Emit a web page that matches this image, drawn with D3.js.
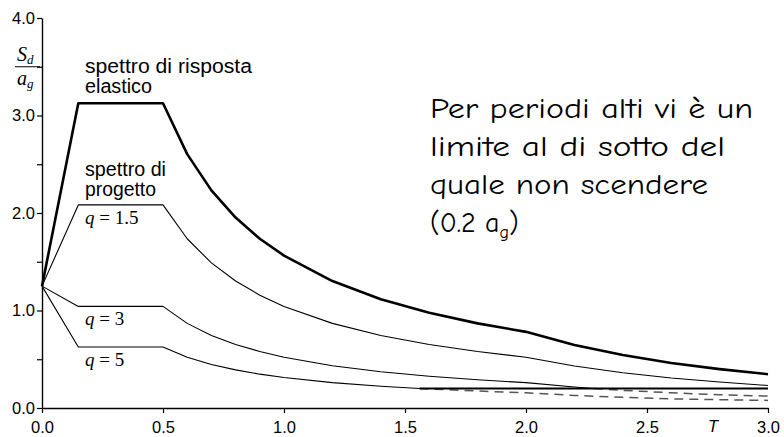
<!DOCTYPE html>
<html>
<head>
<meta charset="utf-8">
<script src="https://cdn.jsdelivr.net/npm/d3@7"></script>
<style>
  body { margin: 0; background: #fff; }
  svg { display: block; }
</style>
</head>
<body>
<svg id="spectrum-chart" width="784" height="437"></svg>
<script>
// periods (s) and normalised spectral values Sd/ag
const periods = [0, 0.15, 0.5, 0.6, 0.7, 0.8, 0.9, 1.0, 1.2, 1.4, 1.6, 1.8, 2.0, 2.2, 2.4, 2.6, 2.8, 3.0];
const elasticValues = [1.25, 3.125, 3.125, 2.604, 2.232, 1.953, 1.736, 1.563, 1.302, 1.116, 0.977, 0.868, 0.781, 0.646, 0.543, 0.462, 0.399, 0.347];
const q15Values = [1.25, 2.083, 2.083, 1.736, 1.488, 1.302, 1.157, 1.042, 0.868, 0.744, 0.651, 0.579, 0.521, 0.430, 0.362, 0.308, 0.266, 0.231];

const q3Periods = [0, 0.15, 0.5, 0.6, 0.7, 0.8, 0.9, 1.0, 1.2, 1.4, 1.6, 1.8, 2.0, 2.2, 2.28];
const q3Values = [1.25, 1.042, 1.042, 0.868, 0.744, 0.651, 0.579, 0.521, 0.434, 0.372, 0.326, 0.289, 0.260, 0.215, 0.200];

const q5Periods = [0, 0.15, 0.5, 0.6, 0.7, 0.8, 0.9, 1.0, 1.2, 1.4, 1.56];
const q5Values = [1.25, 0.625, 0.625, 0.521, 0.446, 0.391, 0.347, 0.313, 0.260, 0.223, 0.200];

// lower limit 0.2 ag
const floorPeriods = [1.56, 3.0];
const floorValues = [0.2, 0.2];

// dashed continuations below the limit
const q5DashPeriods = [1.56, 1.8, 2.0, 2.2, 2.4, 2.6, 2.8, 3.0];
const q5DashValues = [0.200, 0.174, 0.156, 0.129, 0.109, 0.094, 0.085, 0.078];
const q3DashPeriods = [2.28, 2.4, 2.6, 2.8, 3.0];
const q3DashValues = [0.200, 0.181, 0.156, 0.136, 0.122];

const xTicks = [0, 0.5, 1.0, 1.5, 2.0, 2.5, 3.0];
const yTicks = [0, 0.5, 1.0, 1.5, 2.0, 2.5, 3.0, 3.5, 4.0];

const noteLines = ["Per periodi alti vi è un", "limite al di sotto del", "quale non scendere"];

(function () {
  const svg = d3.select("#spectrum-chart");

  const x = d3.scaleLinear().domain([0, 3]).range([42, 768]);
  const y = d3.scaleLinear().domain([0, 4]).range([408, 18]);

  const sans = "Arial, 'Liberation Sans', sans-serif";
  const serif = "'Times New Roman', 'Liberation Serif', serif";

  // axes
  const xAxis = svg.append("g")
    .attr("transform", `translate(0,${y(0)})`)
    .call(d3.axisBottom(x).tickValues(xTicks).tickFormat(d3.format(".1f"))
      .tickSize(5).tickSizeOuter(0).tickPadding(8));

  const yAxis = svg.append("g")
    .attr("transform", `translate(${x(0)},0)`)
    .call(d3.axisLeft(y).tickValues(yTicks)
      .tickFormat(d => d % 1 === 0 ? d3.format(".1f")(d) : "")
      .tickSize(5).tickSizeOuter(0).tickPadding(2));

  [xAxis, yAxis].forEach(a => {
    a.select(".domain").attr("stroke", "#000").attr("stroke-width", 1.4);
    a.selectAll(".tick line").attr("stroke", "#000").attr("stroke-width", 1.2);
    a.selectAll("text").attr("font-family", sans).attr("font-size", 16.5).attr("fill", "#000");
  });

  const line = d3.line().x(d => x(d[0])).y(d => y(d[1]));
  const zipped = (ts, vs) => ts.map((t, i) => [t, vs[i]]);

  const curves = [
    { pts: zipped(q5DashPeriods, q5DashValues), w: 1.5, dash: "9,6", color: "#555" },
    { pts: zipped(q3DashPeriods, q3DashValues), w: 1.5, dash: "9,6", color: "#555" },
    { pts: zipped(periods, q15Values), w: 1.1 },
    { pts: zipped(q3Periods, q3Values), w: 1.1 },
    { pts: zipped(q5Periods, q5Values), w: 1.1 },
    { pts: zipped(floorPeriods, floorValues), w: 2.2 },
    { pts: zipped(periods, elasticValues), w: 2.6 }
  ];

  svg.selectAll("path.curve")
    .data(curves)
    .enter().append("path")
    .attr("class", "curve")
    .attr("d", d => line(d.pts))
    .attr("fill", "none")
    .attr("stroke", d => d.color || "#000")
    .attr("stroke-width", d => d.w)
    .attr("stroke-dasharray", d => d.dash || null)
    .attr("stroke-linejoin", "round");

  // curve labels (stretched a bit, like the original)
  const label = (tx, ty, str, len) => svg.append("text")
    .attr("x", tx).attr("y", ty)
    .attr("font-family", sans).attr("font-size", 19.5)
    .attr("textLength", len).attr("lengthAdjust", "spacingAndGlyphs")
    .text(str);

  label(85, 73, "spettro di risposta", 167);
  label(85, 93, "elastico", 67);
  label(85, 176, "spettro di", 81);
  label(85, 196, "progetto", 71);

  const qLabel = (ty, val) => {
    const t = svg.append("text")
      .attr("x", 85).attr("y", ty)
      .attr("font-family", serif).attr("font-size", 19);
    t.append("tspan").attr("font-style", "italic").text("q");
    t.append("tspan").text(" = " + val);
  };
  qLabel(y(2.083) + 19, "1.5");
  qLabel(y(1.042) + 19, "3");
  qLabel(y(0.625) + 19, "5");

  // y axis title Sd / ag
  const num = svg.append("text").attr("x", 17).attr("y", 61)
    .attr("font-family", serif).attr("font-size", 20).attr("font-style", "italic");
  num.append("tspan").text("S");
  num.append("tspan").attr("font-size", 13).attr("dy", 3).text("d");
  svg.append("line")
    .attr("x1", 15).attr("x2", 40)
    .attr("y1", y(3.5)).attr("y2", y(3.5))
    .attr("stroke", "#000").attr("stroke-width", 1);
  const den = svg.append("text").attr("x", 17).attr("y", 85)
    .attr("font-family", serif).attr("font-size", 20).attr("font-style", "italic");
  den.append("tspan").text("a");
  den.append("tspan").attr("font-size", 13).attr("dy", 3).text("g");

  // x axis title
  svg.append("text")
    .attr("x", 713).attr("y", 432)
    .attr("text-anchor", "middle")
    .attr("font-family", sans).attr("font-size", 16.5).attr("font-style", "italic")
    .text("T");

  // note on the right
  const noteFont = "'Comic Sans MS', 'Comic Neue', Lato, sans-serif";
  const noteWidths = [323, 295, 278];
  noteLines.forEach((s, i) => {
    svg.append("text")
      .attr("x", 430).attr("y", 118 + i * 38)
      .attr("font-family", noteFont).attr("font-size", 28)
      .attr("textLength", noteWidths[i]).attr("lengthAdjust", "spacingAndGlyphs")
      .text(s);
  });
  const last = svg.append("text")
    .attr("x", 430).attr("y", 118 + 3 * 38)
    .attr("font-family", noteFont).attr("font-size", 28);
  last.append("tspan").text("(0.2 a");
  last.append("tspan").attr("font-size", 18).attr("dy", 6).text("g");
  last.append("tspan").attr("dy", -6).text(")");
})();
</script>
</body>
</html>
